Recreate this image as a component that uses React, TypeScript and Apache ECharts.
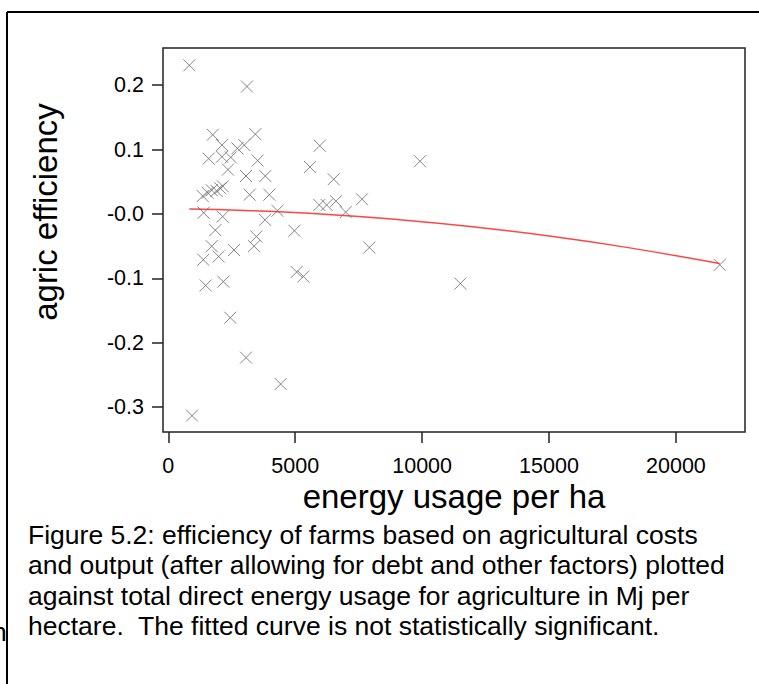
import React, { useEffect, useRef } from "react";
import * as echarts from "echarts";

// energy usage per ha (Mj)
const energyUsage = [
  830, 3100, 1750, 3430, 2115, 2720, 2995, 5965, 1590, 2115,
  2460, 3520, 2350, 5580, 3060, 3820, 6515, 9918, 1355, 1550,
  1710, 1900, 2050, 2150, 3207, 3980, 1395, 2143, 4300, 5950,
  6240, 6607, 6990, 7632, 1852, 3810, 3470, 4970, 1710, 3377,
  2589, 1380, 1985, 5058, 5320, 1473, 2167, 2443, 3061, 4428,
  934, 7920, 11505, 21726,
];
// agric efficiency
const agricEfficiency = [
  0.231, 0.198, 0.123, 0.124, 0.107, 0.102, 0.107, 0.106, 0.086, 0.089,
  0.088, 0.083, 0.069, 0.073, 0.059, 0.059, 0.054, 0.082, 0.028, 0.033,
  0.037, 0.036, 0.040, 0.043, 0.030, 0.030, 0.002, -0.004, 0.005, 0.014,
  0.014, 0.020, 0.003, 0.023, -0.025, -0.009, -0.035, -0.026, -0.050, -0.050,
  -0.056, -0.071, -0.066, -0.090, -0.097, -0.111, -0.105, -0.161, -0.223, -0.264,
  -0.313, -0.052, -0.108, -0.079,
];
// fitted curve
const fitX = [830, 3000, 6000, 9000, 12000, 15000, 18000, 21726];
const fitY = [0.0078, 0.0056, 0.0001, -0.0084, -0.0198, -0.0341, -0.0514, -0.077];

const xTicks = [0, 5000, 10000, 15000, 20000];
const yTicks = [-0.3, -0.2, -0.1, 0, 0.1, 0.2];

const captionLines = [
  "Figure 5.2: efficiency of farms based on agricultural costs",
  "and output (after allowing for debt and other factors) plotted",
  "against total direct energy usage for agriculture in Mj per",
  "hectare.  The fitted curve is not statistically significant.",
];

const FONT = "'Liberation Sans', Arial, Helvetica, sans-serif";

export default function App() {
  const ref = useRef<HTMLDivElement>(null);
  useEffect(() => {
    if (!ref.current) return;
    const chart = echarts.init(ref.current, null, { renderer: "svg" });
    const scatterData = energyUsage.map((x, i) => [x, agricEfficiency[i]]);
    const fitData = fitX.map((x, i) => [x, fitY[i]]);
    const captionGraphics = captionLines.map((t, i) => ({
      type: "text",
      x: 28,
      y: 535 + i * 30.3,
      style: {
        text: t,
        font: `26.5px ${FONT}`,
        fill: "#000",
        textVerticalAlign: "middle",
      },
    }));
    chart.setOption({
      animation: false,
      backgroundColor: "#fff",
      grid: {
        left: 163,
        top: 48,
        width: 582,
        height: 384,
        show: true,
        borderColor: "#222",
        borderWidth: 1.5,
        backgroundColor: "transparent",
      },
      xAxis: {
        type: "value",
        min: -209,
        max: 22722,
        splitLine: { show: false },
        axisLine: { show: false, onZero: false },
        axisTick: {
          show: true,
          customValues: xTicks,
          length: 11,
          lineStyle: { color: "#222", width: 1.5 },
        },
        axisLabel: {
          customValues: xTicks,
          margin: 23,
          color: "#000",
          fontSize: 21.5,
          fontFamily: FONT,
          formatter: (v: number) => String(Math.round(v)),
        },
      },
      yAxis: {
        type: "value",
        min: -0.3385,
        max: 0.2578,
        splitLine: { show: false },
        axisLine: { show: false, onZero: false },
        axisTick: {
          show: true,
          customValues: yTicks,
          length: 11,
          lineStyle: { color: "#222", width: 1.5 },
        },
        axisLabel: {
          customValues: yTicks,
          margin: 19,
          color: "#000",
          fontSize: 21.5,
          fontFamily: FONT,
          formatter: (v: number) => (Math.abs(v) < 1e-9 ? "-0.0" : v.toFixed(1)),
        },
      },
      series: [
        {
          type: "scatter",
          data: scatterData,
          symbol: "path://M0,0L10,10M10,0L0,10",
          symbolSize: 12,
          itemStyle: { color: "none", borderColor: "#666", borderWidth: 1 },
          z: 3,
        },
        {
          type: "line",
          data: fitData,
          smooth: true,
          showSymbol: false,
          symbol: "none",
          lineStyle: { color: "#ff4444", width: 1.5 },
          z: 2,
        },
      ],
      graphic: [
        {
          type: "line",
          shape: { x1: 7, y1: 12, x2: 759, y2: 12 },
          style: { stroke: "#000", lineWidth: 2 },
        },
        {
          type: "line",
          shape: { x1: 7, y1: 12, x2: 7, y2: 684 },
          style: { stroke: "#000", lineWidth: 2 },
        },
        {
          type: "text",
          x: 45,
          y: 212,
          rotation: Math.PI / 2,
          style: {
            text: "agric efficiency",
            font: `33px ${FONT}`,
            fill: "#000",
            textAlign: "center",
            textVerticalAlign: "middle",
          },
        },
        {
          type: "text",
          x: 454,
          y: 496,
          style: {
            text: "energy usage per ha",
            font: `33px ${FONT}`,
            fill: "#000",
            textAlign: "center",
            textVerticalAlign: "middle",
          },
        },
        {
          type: "text",
          x: -8,
          y: 632,
          style: {
            text: "n",
            font: `26.5px ${FONT}`,
            fill: "#000",
            textVerticalAlign: "middle",
          },
        },
        ...captionGraphics,
      ],
    });
    return () => chart.dispose();
  }, []);
  return (
    <div
      ref={ref}
      style={{ position: "fixed", left: 0, top: 0, width: 759, height: 684 }}
    />
  );
}
